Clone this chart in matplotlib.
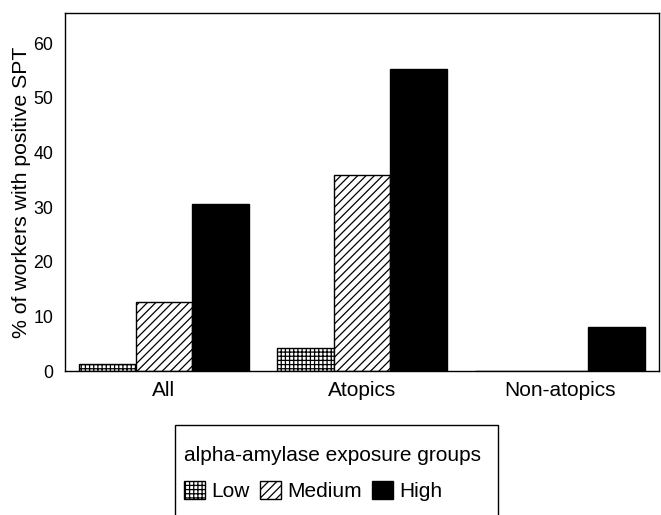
import matplotlib
matplotlib.use("Agg")
import matplotlib.pyplot as plt
from matplotlib.patches import Rectangle
import numpy as np

categories = ["All", "Atopics", "Non-atopics"]
groups = ["Low", "Medium", "High"]
low = [1.2, 4.2, 0.0]
medium = [12.7, 35.9, 0.0]
high = [30.5, 55.2, 8.1]
yticks = [0, 10, 20, 30, 40, 50, 60]

plt.rcParams['font.family'] = ['Liberation Sans', 'DejaVu Sans']
plt.rcParams['hatch.linewidth'] = 0.9

W, H = 661, 515
fig = plt.figure(figsize=(W/100, H/100), dpi=100)
ax = fig.add_axes([65/W, 1 - 371/H, (659-65)/W, (371-13)/H])

x = np.arange(len(categories))
w = 0.287
styles = [dict(facecolor='white', hatch='++++'),
          dict(facecolor='white', hatch='////'),
          dict(facecolor='black', hatch=None)]
for i, (vals, name) in enumerate(zip([low, medium, high], groups)):
    ax.bar(x + (i - 1) * w, vals, width=w, edgecolor='black', linewidth=1.0,
           label=name, **styles[i])

ax.set_xlim(-0.5, 2.5)
ax.set_ylim(0, 65.5)
ax.set_yticks(yticks)
ax.set_xticks(x)
ax.set_xticklabels(categories)
ax.tick_params(axis='y', length=0, pad=8.5, labelsize=12.8)
ax.tick_params(axis='x', length=0, pad=7, labelsize=15)
for s in ax.spines.values():
    s.set_linewidth(1.0)
ax.set_ylabel("% of workers with positive SPT", fontsize=15.3)
ax.yaxis.set_label_coords(-(65 - 31) / 594, (371 - 192) / 358)

leg = fig.legend(loc='upper left', bbox_to_anchor=(184/W, 1 - 446/H),
                 ncol=3, title="alpha-amylase exposure groups",
                 fontsize=15, title_fontsize=15, frameon=False,
                 handlelength=1.0, handleheight=1.0,
                 handletextpad=0.3, columnspacing=0.5, borderpad=0.0,
                 labelspacing=0.75, borderaxespad=0, alignment='left')

fig.add_artist(Rectangle((175/W, 1 - 525/H), (498-175)/W, (525-425)/H,
                         transform=fig.transFigure, fill=False,
                         edgecolor='black', linewidth=1.0))

fig.savefig("out.png", dpi=100)
